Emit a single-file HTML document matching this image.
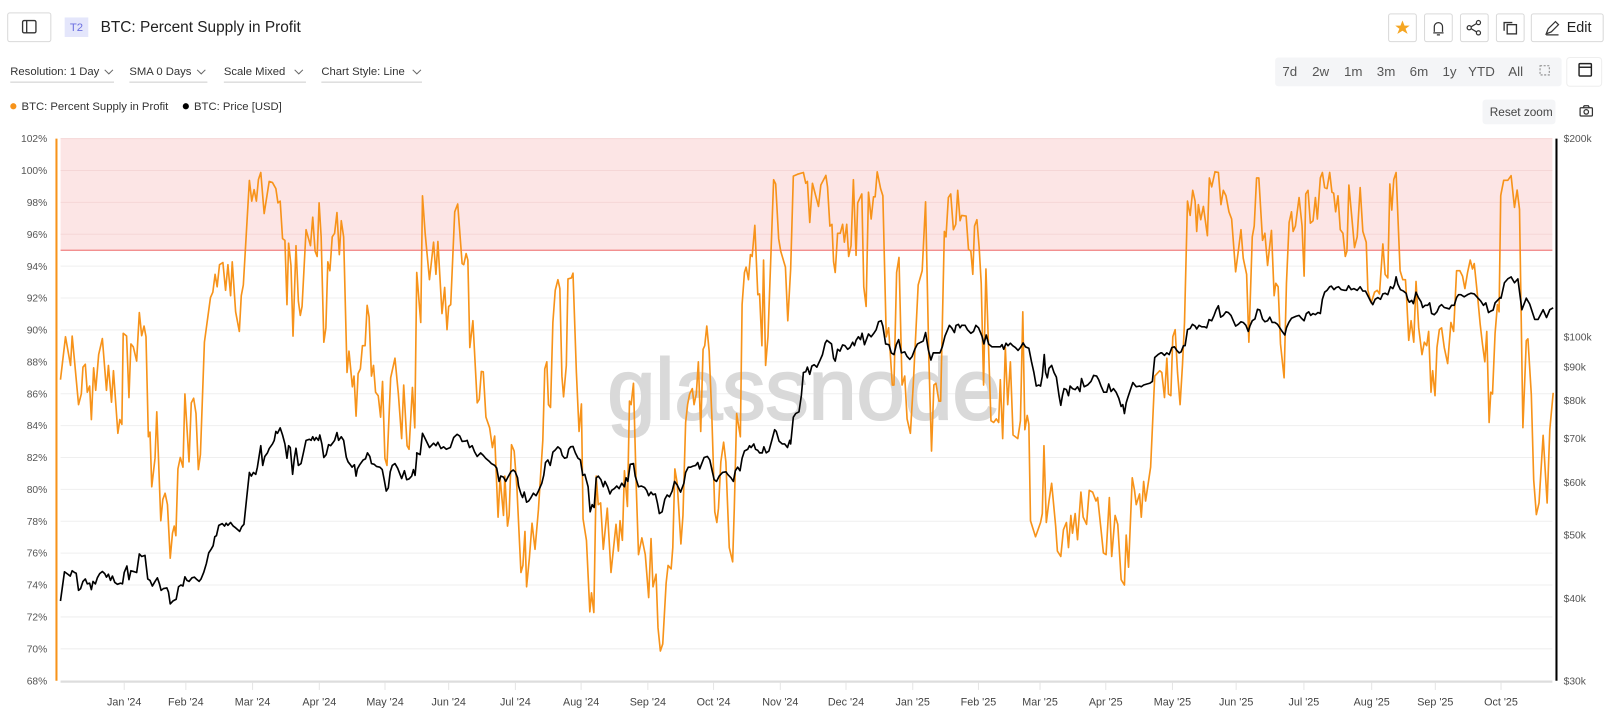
<!DOCTYPE html>
<html><head><meta charset="utf-8">
<style>
html,body{margin:0;padding:0;background:#fff;width:1609px;height:726px;overflow:hidden;font-family:"Liberation Sans",sans-serif;}
svg{position:absolute;left:0;top:0}
</style></head>
<body>
<svg id="s" width="1609" height="726" viewBox="0 0 1609 726" xmlns="http://www.w3.org/2000/svg" font-family="Liberation Sans, sans-serif">
<g transform="scale(1.0267)">
<!-- header -->
<rect x="7.5" y="12.5" width="42" height="28" rx="2" fill="#fff" stroke="#d9d9d9"/>
<rect x="22" y="20" width="13" height="12" rx="1.5" fill="none" stroke="#333" stroke-width="1.3"/>
<line x1="26" y1="20" x2="26" y2="32" stroke="#333" stroke-width="1.3"/>
<rect x="63" y="17" width="23" height="19" fill="#e4e6fb"/>
<text x="74.5" y="30" font-size="11" fill="#6c70e0" text-anchor="middle">T2</text>
<text x="98" y="31" font-size="15" fill="#222">BTC: Percent Supply in Profit</text>
<g fill="#fff" stroke="#d9d9d9">
<rect x="1352.5" y="13.5" width="27" height="27" rx="2"/>
<rect x="1387.5" y="13.5" width="27" height="27" rx="2"/>
<rect x="1422.5" y="13.5" width="27" height="27" rx="2"/>
<rect x="1457.5" y="13.5" width="27" height="27" rx="2"/>
<rect x="1491.5" y="13.5" width="70" height="27" rx="2"/>
</g>
<polygon points="1366,20 1368,25 1373,25 1369,28 1371,33 1366,30 1361,33 1363,28 1359,25 1364,25" fill="#f5a623"/>
<path d="M1396,32 h10 M1397,31 v-5 a4,4 0 0 1 8,0 v5 M1399.5,34 h3" stroke="#333" fill="none" stroke-width="1.2"/>
<g stroke="#333" fill="none" stroke-width="1.2"><circle cx="1431" cy="27" r="2"/><circle cx="1440" cy="22" r="2"/><circle cx="1440" cy="32" r="2"/><path d="M1433,26 l5,-3 M1433,28 l5,3"/></g>
<g stroke="#333" fill="none" stroke-width="1.3"><rect x="1468" y="24" width="9" height="9"/><path d="M1465,30 v-8 h8"/></g>
<path d="M1506,33 l2,-5 l7,-7 l3,3 l-7,7 z M1506,34 h12" stroke="#333" fill="none" stroke-width="1.2"/>
<text x="1526" y="31" font-size="14" fill="#222">Edit</text>
<!-- controls -->
<g font-size="11" fill="#333">
<text x="10" y="73">Resolution: 1 Day</text>
<text x="126" y="73">SMA 0 Days</text>
<text x="218" y="73">Scale Mixed</text>
<text x="313" y="73">Chart Style: Line</text>
</g>
<g stroke="#666" fill="none" stroke-width="1"><path d="M102,68 l4,4 l4,-4"/><path d="M192,68 l4,4 l4,-4"/><path d="M287,68 l4,4 l4,-4"/><path d="M402,68 l4,4 l4,-4"/></g>
<g stroke="#ccc"><line x1="10" y1="80" x2="111" y2="80"/><line x1="126" y1="80" x2="202" y2="80"/><line x1="218" y1="80" x2="298" y2="80"/><line x1="313" y1="80" x2="411" y2="80"/></g>
<rect x="1242" y="56" width="279" height="28" rx="3" fill="#f4f5f7"/>
<g font-size="13" fill="#555"><text x="1249" y="74">7d</text><text x="1278" y="74">2w</text><text x="1309" y="74">1m</text><text x="1341" y="74">3m</text><text x="1373" y="74">6m</text><text x="1405" y="74">1y</text><text x="1430" y="74">YTD</text><text x="1469" y="74">All</text></g>
<rect x="1500" y="64" width="9" height="9" fill="none" stroke="#888" stroke-dasharray="2,1.5"/>
<rect x="1526" y="56" width="34" height="28" rx="3" fill="#fff" stroke="#eee"/>
<rect x="1538" y="62" width="12" height="12" rx="1" fill="none" stroke="#222" stroke-width="1.4"/>
<line x1="1538" y1="65.5" x2="1550" y2="65.5" stroke="#222" stroke-width="1.4"/>
<circle cx="13" cy="103.5" r="3" fill="#f7931a"/>
<text x="21" y="107" font-size="11" fill="#333">BTC: Percent Supply in Profit</text>
<circle cx="181" cy="103.5" r="3" fill="#000"/>
<text x="189" y="107" font-size="11" fill="#333">BTC: Price [USD]</text>
<rect x="1444" y="97" width="71" height="24" rx="3" fill="#f4f5f7"/>
<text x="1451" y="113" font-size="11.5" fill="#444">Reset zoom</text>
<g stroke="#333" fill="none" stroke-width="1.2"><rect x="1539" y="105" width="12" height="8" rx="1"/><circle cx="1545" cy="109" r="2.2"/><path d="M1542,105 l1,-2 h4 l1,2"/></g>
<g id="plot"></g>
</g>
</svg>
<script>
const NS="http://www.w3.org/2000/svg";
const P=document.getElementById('plot');
function el(t,a,txt){const e=document.createElementNS(NS,t);for(const k in a)e.setAttribute(k,a[k]);if(txt!=null)e.textContent=txt;P.appendChild(e);return e;}
const X0=55,X1=1512,YT=135,YB=663;
const yP=p=>YT+(102-p)*(YB-YT)/34;
el('rect',{x:59,y:135,width:X1-59,height:yP(95)-135,fill:'#fce5e5'});
for(let p=68;p<=102;p+=2){el('line',{x1:59,x2:X1,y1:yP(p),y2:yP(p),stroke:p>95?'#f5d6d6':'#efefef','stroke-width':1});
 el('text',{x:46,y:yP(p)+3.5,'font-size':10,fill:'#555','text-anchor':'end'},p+'%');}
el('line',{x1:59,x2:X1,y1:yP(95),y2:yP(95),stroke:'#f08080','stroke-width':1.2});
el('text',{x:783,y:408,'font-size':84,fill:'#d9d9d9','text-anchor':'middle','stroke':'#d9d9d9','stroke-width':2},'glassnode');
const yL=v=>YT+Math.log(200/v)/Math.log(200/30)*(YB-YT);
[[200,'$200k'],[100,'$100k'],[90,'$90k'],[80,'$80k'],[70,'$70k'],[60,'$60k'],[50,'$50k'],[40,'$40k'],[30,'$30k']].forEach(([v,t])=>el('text',{x:1523,y:yL(v)+3.5,'font-size':10,fill:'#555'},t));
el('line',{x1:1516,x2:1516,y1:135,y2:663,stroke:'#000','stroke-width':2});
el('line',{x1:55,x2:55,y1:135,y2:663,stroke:'#f7931a','stroke-width':2});
el('line',{x1:59,x2:X1,y1:664,y2:664,stroke:'#ddd','stroke-width':2});
const months=["Jan '24","Feb '24","Mar '24","Apr '24","May '24","Jun '24","Jul '24","Aug '24","Sep '24","Oct '24","Nov '24","Dec '24","Jan '25","Feb '25","Mar '25","Apr '25","May '25","Jun '25","Jul '25","Aug '25","Sep '25","Oct '25"];
const mx=[121,181,246,311,375,437,502,566,631,695,760,824,889,953,1013,1077,1142,1204,1270,1336,1398,1462];
months.forEach((m,i)=>{el('line',{x1:mx[i],x2:mx[i],y1:665,y2:672,stroke:'#e5e5e5'});el('text',{x:mx[i],y:687,'font-size':10.5,fill:'#444','text-anchor':'middle'},m);});
const segs=[
 {bx:120,zr:220,sc:3.06,end:406},
 {bx:437,zr:95,sc:3.055,end:770},
 {bx:824,zr:165,sc:3.06,end:1132},
 {bx:1142,zr:32,sc:3.09,end:1462},
 {bx:1462,zr:300,sc:3.05,end:9999,v:1}];
const vy=(zy,v)=>v?135+(zy-47)/2.657:135+(zy-25)/2.875;
const O=[
[33,700,48,580,63,660,68,578,75,648,87,770,95,740,100,665,107,657,113,735,120,718,125,812,132,667,138,730,147,630,158,585,170,730,176,660,185,763,191,675,204,850,210,812,216,825,220,570,230,578,237,750,243,600,250,608,260,648,268,512,275,577,282,550,288,580,295,860,300,847,305,1000,315,920,320,790,332,1095,338,1035,345,1018,352,1050,360,1200,367,1130,372,1110,377,1137,383,950,390,918,398,945,404,740,416,930,423,765,430,752,437,795,444,952,450,910,462,595,480,470,487,455,494,405,500,440,507,378,517,372,525,450,532,378,540,465,545,370,555,510,566,565,572,465,578,435,596,142,603,200,610,168,617,200,623,140,630,120,640,235,655,145,665,148,675,165,681,205,688,200,695,305,702,310,708,490,713,318,720,380,726,578,735,325,742,480,748,520,753,495,765,280,778,325,785,245,792,340,798,355,804,205,810,300,818,595,824,555,830,370,836,395,843,300,850,290,857,232,864,350,870,255,877,300,887,680,893,620,903,720,908,690,914,802,920,683,927,670,933,605,941,605,947,492,953,525,960,690,966,660,972,735,980,745,987,805,993,705,1000,920,1006,940,1017,695,1030,640,1040,740,1050,865,1056,715,1066,885,1072,895,1082,722,1089,835,1097,500,1102,585,1110,410,1117,400,1122,540,1128,185,1138,335],
[0,400,12,540,17,185,25,290,38,420,50,315,57,405,63,313,75,515,83,442,90,560,95,495,101,490,113,230,122,208,135,375,140,378,147,347,152,365,158,610,167,535,180,765,186,755,192,677,198,678,206,805,217,835,225,890,232,858,242,1085,248,975,258,1080,262,970,270,1110,275,1080,282,882,290,900,298,1000,310,1240,316,1220,322,1125,327,1280,335,1200,343,1102,352,1175,362,1065,375,870,381,670,387,650,392,770,398,778,405,540,412,450,420,420,426,445,432,690,437,748,445,660,450,418,460,415,465,402,475,680,483,845,490,768,495,1090,505,1150,515,1350,520,1297,527,1352,534,970,540,1050,547,1045,555,1175,567,1060,578,1240,593,1105,600,1180,605,1095,612,1150,618,955,627,1055,633,760,638,770,645,710,653,1000,660,1190,670,1143,680,1190,690,1310,697,1145,703,1280,712,1245,718,1395,725,1460,732,1440,742,1270,748,1220,757,1230,762,1170,768,950,775,990,786,1160,792,1080,800,820,806,770,812,740,820,725,825,770,832,740,838,650,845,845,852,615,857,605,863,550,870,620,878,800,887,1070,893,1100,898,1060,905,930,913,875,920,930,930,1170,940,1210,945,1060,952,795,963,860,968,490,975,400,980,385,987,420,993,350,998,355,1006,268,1015,462,1020,460,1027,605,1032,365,1038,660,1045,580,1062,140,1068,152,1077,305,1083,340,1097,385,1104,535,1115,130,1130,125,1138,120],
[0,390,8,130,20,125,38,120,45,150,50,145,57,260,65,150,83,215,90,155,105,128,110,160,117,270,123,265,128,370,133,400,140,290,148,290,155,265,160,315,167,265,173,355,180,325,187,140,195,352,200,205,212,180,218,440,225,495,232,175,240,250,247,188,252,188,258,118,268,165,275,185,285,580,292,555,303,715,308,715,316,400,323,358,332,715,340,690,347,810,357,850,365,720,380,435,392,395,402,202,412,640,420,900,427,715,433,710,442,760,447,760,458,285,463,300,470,190,477,180,485,280,492,265,498,170,505,255,510,240,523,242,530,335,537,340,543,405,548,270,555,252,562,330,568,430,575,715,582,390,590,615,597,815,605,820,613,810,620,820,625,700,632,865,640,610,647,770,655,650,663,855,677,865,685,815,692,510,698,840,705,800,710,825,715,1095,730,1140,745,1100,750,1075,755,885,762,1100,770,1040,778,990,790,1110,795,1180,805,1195,813,1120,822,1100,828,1170,835,1080,840,1130,848,1075,855,1148,865,1015,872,1085,882,1105,890,1010,900,1015,910,1040,915,1030,925,1120,932,1185,940,1190,950,1030,957,1195,967,1080,975,1105,985,1260,995,1275,1000,1135,1007,1225,1018,975,1025,1010,1030,1050,1040,1020,1045,1085,1052,985,1058,1040,1073,945,1085,690,1100,675,1110,745,1125,640,1135,740],
[0,680,8,750,15,640,20,740,27,745,33,580,40,560,47,680,55,770,62,660,68,540,77,200,85,240,93,170,100,200,105,285,110,210,117,252,125,215,137,297,143,135,150,160,160,118,170,120,178,210,185,170,193,185,202,230,210,250,222,398,230,340,238,280,245,360,255,405,262,595,272,300,278,270,285,135,292,135,303,310,310,290,318,380,330,282,338,465,343,430,350,440,357,600,368,695,375,430,383,260,390,230,395,285,402,270,413,190,422,270,428,410,433,180,440,170,447,262,455,255,462,190,468,250,477,135,483,120,490,162,497,165,505,120,512,175,517,178,523,230,530,185,537,280,545,290,552,355,557,340,563,155,572,250,580,330,588,300,597,162,605,285,615,315,620,450,630,485,640,455,648,450,655,460,665,320,672,405,680,415,686,152,692,225,698,140,705,120,717,395,725,420,733,420,737,480,743,590,750,535,758,595,765,425,773,555,783,630,790,595,797,605,803,565,810,735,815,675,822,745,828,610,835,560,842,555,850,610,860,655,870,540,878,565,887,395,897,395,905,410,912,445,920,400,928,365,935,390,940,375,950,465,958,545,965,600,972,650,978,565,985,820,990,735,995,740,1003,570,1010,490,1015,510,1020,185],
[300,190,308,155,320,155,330,143,340,225,348,180,355,230,365,795,375,570,380,565,390,710,397,930,405,1020,413,990,425,815,437,990,445,800,455,705]];
const B=[
[33,1320,45,1238,55,1245,62,1250,68,1235,75,1240,80,1242,87,1290,93,1285,100,1265,107,1258,113,1272,120,1270,125,1288,130,1265,137,1272,143,1255,150,1243,158,1237,165,1243,170,1253,176,1245,182,1262,188,1250,195,1268,203,1273,212,1270,218,1272,223,1240,231,1222,237,1260,243,1235,250,1237,260,1240,268,1188,275,1195,285,1192,293,1258,300,1262,307,1278,315,1265,322,1255,328,1272,333,1290,340,1285,350,1283,355,1295,360,1328,368,1320,378,1315,385,1280,392,1275,398,1278,404,1252,410,1262,416,1265,425,1255,432,1253,440,1260,446,1265,452,1258,460,1240,468,1215,475,1185,482,1175,488,1165,493,1140,498,1137,505,1108,515,1103,522,1110,527,1102,532,1108,540,1100,548,1110,555,1115,567,1125,573,1112,580,1105,588,1030,596,960,602,970,608,960,615,965,620,945,630,885,636,940,642,915,650,905,655,893,665,880,670,870,675,845,680,850,688,835,695,855,702,880,708,920,713,885,718,890,725,965,730,920,735,892,742,940,750,935,757,905,765,870,775,867,780,870,785,860,790,870,795,862,802,870,806,855,812,880,818,918,825,910,832,882,838,885,845,877,850,870,857,848,862,870,870,860,877,870,885,917,890,930,897,938,902,945,909,938,914,970,918,950,925,938,935,925,942,922,948,905,955,915,960,935,968,937,975,943,985,945,992,952,998,980,1004,1012,1010,1003,1016,958,1022,940,1030,935,1038,948,1045,965,1050,977,1058,955,1065,980,1072,978,1080,970,1085,952,1090,968,1095,915,1102,915,1110,900,1118,905,1124,910,1128,850,1138,875],
[0,905,10,910,17,850,25,865,38,890,50,878,57,885,63,875,72,893,80,888,88,895,100,890,110,862,120,853,128,858,135,873,145,872,150,870,157,890,165,885,172,902,180,915,190,905,198,912,205,920,215,928,222,935,232,940,238,948,245,985,250,970,258,973,265,985,272,972,280,958,287,953,293,958,300,975,303,998,310,1020,315,1030,320,1015,327,1043,333,1040,340,1030,347,1018,355,1025,362,1012,372,990,378,968,383,932,390,925,397,940,405,903,412,897,420,888,428,895,433,912,440,920,447,918,452,895,458,888,465,887,472,905,480,920,487,925,494,968,500,965,510,1000,516,1070,522,1050,528,1058,534,975,540,970,548,980,555,1000,560,985,568,1000,575,1020,580,1010,588,1005,595,998,602,1005,610,990,618,1000,623,975,628,985,635,937,645,935,650,970,660,1000,668,998,678,1002,684,1010,690,1025,697,1015,703,1022,710,1020,716,1045,722,1075,730,1070,738,1035,745,1023,752,1028,760,1012,767,985,775,995,785,1015,795,990,800,960,808,945,815,945,822,942,830,940,836,932,842,950,848,935,855,918,865,915,872,925,880,960,885,980,892,985,900,970,910,960,920,958,925,965,935,975,942,985,948,955,955,945,962,955,968,920,975,900,985,895,990,885,995,890,1003,880,1008,895,1015,898,1020,905,1028,905,1033,888,1040,905,1048,900,1058,865,1065,840,1070,845,1078,872,1088,880,1095,880,1103,890,1110,870,1115,803,1125,798,1140,765],
[0,880,8,805,15,795,25,790,32,745,38,680,45,678,50,665,57,685,63,662,70,658,78,665,88,645,95,630,103,598,108,590,115,595,122,600,128,640,133,648,140,615,147,620,155,603,162,605,170,615,177,610,185,595,190,605,195,590,202,580,208,588,213,570,220,602,225,590,232,572,240,580,248,570,255,560,262,538,270,535,275,550,283,600,293,602,300,625,308,630,315,602,322,588,330,625,340,622,347,635,355,643,362,635,370,615,378,600,388,595,395,592,402,568,410,615,418,645,425,625,435,625,445,625,452,608,460,578,468,560,473,548,480,555,488,568,493,548,500,545,505,555,510,548,520,548,527,560,537,570,545,565,552,548,560,555,570,578,576,600,583,575,590,600,600,608,612,608,625,608,630,602,635,615,642,598,648,605,655,598,662,605,670,610,678,618,685,610,693,597,700,608,710,612,718,650,725,680,732,718,740,715,745,718,750,690,756,630,760,680,765,695,770,668,778,660,785,680,792,693,800,745,805,772,810,745,815,725,822,728,828,745,833,718,840,725,848,728,855,720,862,733,867,697,875,720,885,715,895,705,903,688,912,690,918,700,925,718,933,735,942,735,948,712,955,733,962,725,970,735,978,752,985,775,990,770,995,795,1000,765,1005,750,1012,730,1020,708,1030,720,1040,718,1045,720,1052,715,1062,712,1070,710,1078,705,1085,638,1095,630,1103,625,1110,630,1120,625,1130,630,1140,600],
[0,625,8,632,15,625,22,630,30,610,38,608,45,618,52,625,58,622,65,605,70,605,77,560,85,557,92,545,100,550,105,558,112,548,120,552,128,552,135,555,142,532,150,535,157,520,163,505,170,493,177,525,185,520,193,510,200,512,208,520,215,535,222,550,230,545,238,538,245,540,253,548,260,565,265,550,272,535,280,530,288,503,295,505,303,530,310,538,318,535,325,525,332,540,340,540,348,545,355,555,362,565,370,575,375,555,382,540,390,528,398,525,405,522,413,520,420,528,428,535,435,515,442,510,448,520,455,515,462,518,470,512,477,515,483,475,490,455,497,450,505,440,510,438,518,448,525,442,532,440,540,448,550,450,555,450,562,437,570,448,578,445,588,450,597,440,605,452,613,452,620,465,628,480,635,490,642,475,650,470,658,475,665,460,672,458,680,462,688,440,695,445,700,435,705,412,710,432,718,448,727,452,735,458,740,475,745,483,752,478,757,487,765,455,772,470,780,482,785,498,792,492,800,492,806,485,812,515,820,518,828,510,835,495,842,490,850,498,858,500,865,502,872,492,880,492,887,470,893,462,900,462,910,468,920,462,930,458,940,460,950,470,960,480,968,492,975,485,983,512,990,508,997,505,1003,485,1010,478,1018,470]];
const B3=[300,460,310,420,320,410,330,405,340,420,350,410,362,490,375,460,385,475,400,515,410,515,425,490,435,510,445,490,455,485];
let op=[];O.forEach((a,i)=>{const s=segs[i];for(let k=0;k<a.length;k+=2){const x=s.bx+(a[k]-s.zr)/s.sc;if(i<4&&x>s.end)continue;op.push(x.toFixed(1)+','+vy(a[k+1],s.v).toFixed(1));}});
let bp=[];B.forEach((a,i)=>{const s=segs[i];for(let k=0;k<a.length;k+=2){const x=s.bx+(a[k]-s.zr)/s.sc;if(x>s.end)continue;bp.push(x.toFixed(1)+','+vy(a[k+1],s.v).toFixed(1));}});
for(let k=0;k<B3.length;k+=2){const s=segs[4];bp.push((s.bx+(B3[k]-s.zr)/s.sc).toFixed(1)+','+vy(B3[k+1],1).toFixed(1));}
el('polyline',{points:op.join(' '),fill:'none',stroke:'#f7931a','stroke-width':1.6,'stroke-linejoin':'round'});
el('polyline',{points:bp.join(' '),fill:'none',stroke:'#000','stroke-width':1.6,'stroke-linejoin':'round'});
</script>
</body></html>
